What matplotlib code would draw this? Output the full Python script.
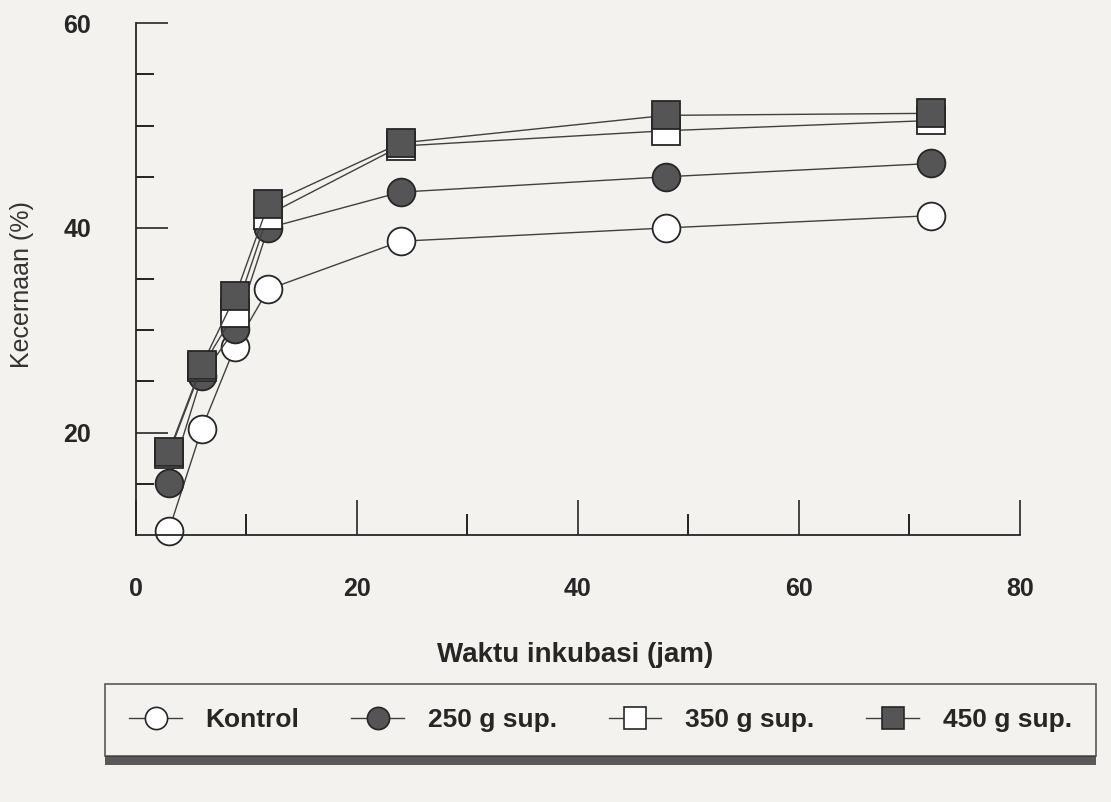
import matplotlib
matplotlib.use("Agg")
import matplotlib.pyplot as plt
from matplotlib.lines import Line2D
from matplotlib.patches import Rectangle

# data (de-rotated)
jam = [3, 6, 9, 12, 24, 48, 72]
kontrol = [10.4, 20.4, 28.4, 34.0, 38.7, 40.0, 41.2]
sup_250 = [15.1, 25.5, 30.1, 40.0, 43.5, 45.0, 46.3]
sup_350 = [17.9, 26.4, 31.7, 41.3, 48.0, 49.5, 50.5]
sup_450 = [18.1, 26.6, 33.3, 42.3, 48.3, 51.0, 51.2]

labels = ["Kontrol", "250 g sup.", "350 g sup.", "450 g sup."]
markers = ["o", "o", "s", "s"]
faces = ["white", "#555555", "white", "#555555"]
x_ticks = [0, 20, 40, 60, 80]
x_minor = [10, 30, 50, 70]
y_ticks = [20, 40, 60]
y_minor = [15, 25, 30, 35, 45, 50, 55]

BG = "#f3f2ee"
FONT = ["Liberation Sans", "DejaVu Sans"]
plt.rcParams["font.family"] = FONT

fig = plt.figure(figsize=(11.11, 8.02), dpi=100, facecolor=BG)
ax = fig.add_axes([0.122, 0.333, 0.796, 0.638])
ax.set_facecolor(BG)

series = [kontrol, sup_250, sup_350, sup_450]
for ys, m, fc in zip(series, markers, faces):
    ax.plot(jam, ys, color="0.25", lw=1.0, marker=m, markersize=20,
            markerfacecolor=fc, markeredgecolor="0.15", markeredgewidth=1.3,
            clip_on=False)

ax.set_xlim(0, 80)
ax.set_ylim(10, 60)
for s in ["top", "right"]:
    ax.spines[s].set_visible(False)
for s in ["left", "bottom"]:
    ax.spines[s].set_color("0.15")
    ax.spines[s].set_linewidth(1.3)

ax.set_xticks(x_ticks)
ax.set_xticks(x_minor, minor=True)
ax.set_yticks(y_ticks)
ax.set_yticks(y_minor, minor=True)
ax.tick_params(axis="x", which="major", direction="in", length=25, width=1.2,
               pad=30, labelsize=18, colors="0.15")
ax.tick_params(axis="x", which="minor", direction="in", length=15, width=1.2)
ax.tick_params(axis="y", which="major", direction="in", length=23, width=1.2,
               pad=32, labelsize=18, colors="0.15")
ax.tick_params(axis="y", which="minor", direction="in", length=13, width=1.2)
for t in ax.get_xticklabels() + ax.get_yticklabels():
    t.set_fontweight("bold")

fig.text(575 / 1111, 1 - 655 / 802, "Waktu inkubasi (jam)", ha="center",
         va="center", fontsize=20, fontweight="bold", color="0.15")
fig.text(22 / 1111, 1 - 285 / 802, "Kecernaan (%)", ha="center", va="center",
         rotation=90, fontsize=18, color="0.2")

handles = [Line2D([], [], color="0.25", lw=1.0, marker=m, markersize=16,
                  markerfacecolor=fc, markeredgecolor="0.15", markeredgewidth=1.2)
           for m, fc in zip(markers, faces)]
leg = fig.legend(handles, labels, loc="center", ncol=4, mode="expand",
                 bbox_to_anchor=(0.083, 0.045, 0.915, 0.115),
                 prop={"size": 19, "weight": "bold", "family": FONT},
                 handlelength=2.0, handletextpad=0.9, borderpad=0.9,
                 fancybox=False, frameon=True)
for t in leg.get_texts():
    t.set_color("0.15")
frame = leg.get_frame()
frame.set_facecolor(BG)
frame.set_edgecolor("0.2")
frame.set_linewidth(1.2)

fig.canvas.draw()
bb = leg.get_frame().get_window_extent()
W, H = fig.bbox.width, fig.bbox.height
fig.patches.append(Rectangle((bb.x0 / W, (bb.y0 - 9) / H), bb.width / W, 9 / H,
                             transform=fig.transFigure, facecolor="0.35",
                             edgecolor="none", figure=fig))

fig.savefig("out.png", dpi=100, facecolor=BG)
